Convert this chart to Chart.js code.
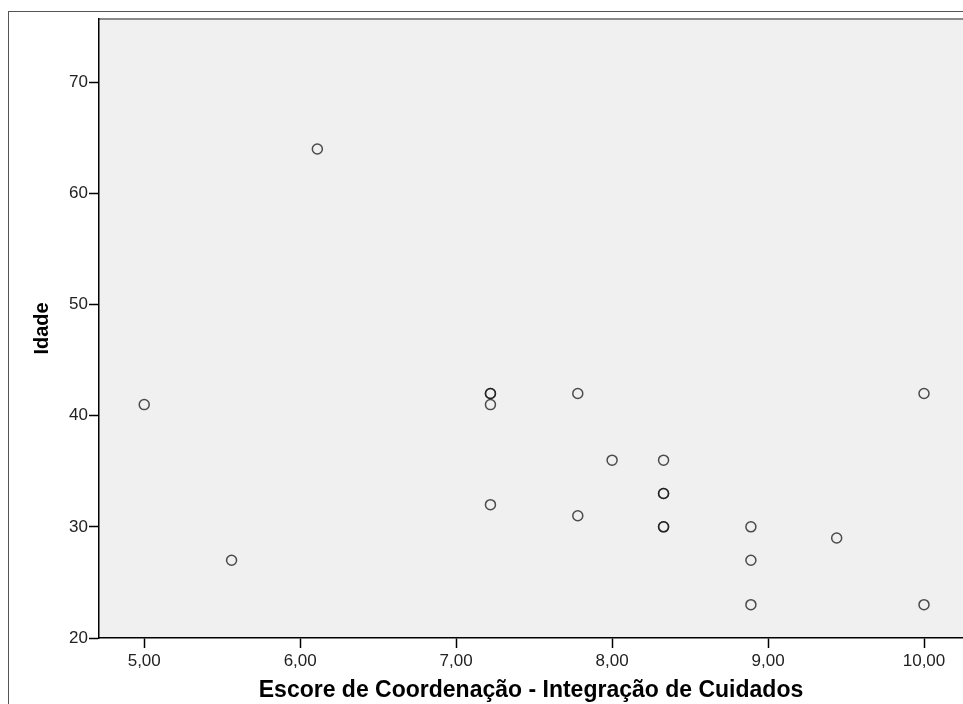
<!DOCTYPE html>
<html>
<head>
<meta charset="utf-8">
<script src="https://cdn.jsdelivr.net/npm/chart.js@4"></script>
<style>
  html, body { margin: 0; padding: 0; background: #fff; overflow: hidden; }
  #frame { position: absolute; left: 8px; top: 11px; width: 2000px; height: 2000px;
           border-left: 1px solid #555; border-top: 1px solid #555; }
  #wrap { position: absolute; left: 0; top: 0; width: 963px; height: 704px; }
</style>
</head>
<body>
<div id="frame"></div>
<div id="wrap"><canvas id="myChart" width="963" height="704"></canvas></div>
<script>
// scores (x) and ages (y), one entry per respondent
var escore = [5.00, 5.56, 6.11, 7.22, 7.22, 7.22, 7.22, 7.78, 7.78, 8.00, 8.33, 8.33, 8.33, 8.33, 8.33, 8.89, 8.89, 8.89, 9.44, 10.00, 10.00];
var idade  = [41,   27,   64,   42,   42,   41,   32,   42,   31,   36,   36,   33,   33,   30,   30,   30,   27,   23,   29,   42,    23];
var xTicks = [5, 6, 7, 8, 9, 10];
var yTicks = [20, 30, 40, 50, 60, 70];

var points = escore.map(function (v, i) { return { x: v, y: idade[i] }; });

// gray plot background + top edge
var plotBg = {
  id: 'plotBg',
  beforeDraw: function (chart) {
    var a = chart.chartArea, c = chart.ctx;
    c.save();
    c.fillStyle = '#f0f0f0';
    c.fillRect(a.left, a.top, a.right - a.left, a.bottom - a.top);
    c.strokeStyle = '#8a8a8a';
    c.lineWidth = 2;
    c.beginPath();
    c.moveTo(a.left, a.top);
    c.lineTo(a.right, a.top);
    c.stroke();
    c.restore();
  }
};

var ctx = document.getElementById("myChart");
var chart = new Chart(ctx, {
  type: 'scatter',
  data: {
    datasets: [{
      label: 'Idade',
      data: points,
      pointRadius: 5,
      pointHoverRadius: 5,
      pointBorderWidth: 1.5,
      pointBorderColor: 'rgba(20,20,20,0.75)',
      pointBackgroundColor: 'rgba(0,0,0,0)'
    }]
  },
  options: {
    responsive: false,
    animation: false,
    layout: { autoPadding: false, padding: { left: 20, top: 19, right: 0, bottom: 0 } },
    plugins: { legend: { display: false }, tooltip: { enabled: false } },
    scales: {
      x: {
        type: 'linear',
        min: 4.71,
        max: 10.25,
        afterBuildTicks: function (s) { s.ticks = xTicks.map(function (v) { return { value: v }; }); },
        afterFit: function (s) { s.height = 66; },
        grid: { drawOnChartArea: false, tickLength: 10, color: '#000', tickWidth: 1.5 },
        border: { color: '#000', width: 1.5 },
        ticks: {
          autoSkip: false, maxRotation: 0, padding: 3,
          color: '#222',
          font: { family: 'Liberation Sans, Arial', size: 17 },
          callback: function (v) { return v.toFixed(2).replace('.', ','); }
        },
        title: {
          display: true,
          text: 'Escore de Coordenação - Integração de Cuidados',
          color: '#000',
          font: { family: 'Liberation Sans, Arial', size: 23, weight: 'bold' },
          padding: { top: 0, bottom: 0 }
        }
      },
      y: {
        type: 'linear',
        min: 20,
        max: 75.7,
        afterBuildTicks: function (s) { s.ticks = yTicks.map(function (v) { return { value: v }; }); },
        afterFit: function (s) { s.width = 79; },
        grid: { drawOnChartArea: false, tickLength: 10, color: '#000', tickWidth: 1.5 },
        border: { color: '#000', width: 1.5 },
        ticks: {
          autoSkip: false, padding: 1,
          color: '#222',
          font: { family: 'Liberation Sans, Arial', size: 17 }
        },
        title: {
          display: true,
          text: 'Idade',
          color: '#000',
          font: { family: 'Liberation Sans, Arial', size: 20, weight: 'bold' },
          padding: { top: 10, bottom: 0 }
        }
      }
    }
  },
  plugins: [plotBg]
});
</script>
</body>
</html>
